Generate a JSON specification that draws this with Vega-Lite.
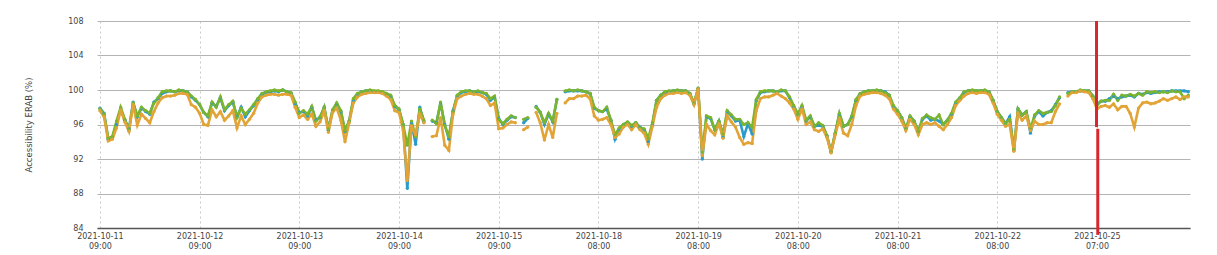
{
"$schema":"https://vega.github.io/schema/vega-lite/v6.json",
"width":1093,"height":207,
"autosize":{"type":"none"},
"padding":{"left":97,"top":21,"right":27,"bottom":27},
"background":"white",
"config":{"view":{"stroke":null},"font":"DejaVu Sans"},
"resolve":{"axis":{"x":"independent","y":"independent"}},
"data":{"values":[
{"i":0,"B":97.9,"G":97.8,"O":97.6},{"i":1,"B":97.3,"G":97.2,"O":96.9},{"i":2,"B":94.3,"G":94.4,"O":94.1},{"i":3,"B":94.5,"G":94.6,"O":94.3},{"i":4,"B":96.0,"G":96.4,"O":95.6},{"i":5,"B":97.8,"G":98.0,"O":97.7},{"i":6,"B":96.5,"G":96.6,"O":96.3},{"i":7,"B":95.5,"G":95.4,"O":95.2},{"i":8,"B":98.6,"G":98.5,"O":98.3},{"i":9,"B":96.9,"G":97.0,"O":95.9},
{"i":10,"B":97.9,"G":98.0,"O":97.2},{"i":11,"B":97.5,"G":97.6,"O":96.7},{"i":12,"B":97.2,"G":97.3,"O":96.2},{"i":13,"B":98.6,"G":98.5,"O":97.5},{"i":14,"B":99.0,"G":99.1,"O":98.5},{"i":15,"B":99.6,"G":99.8,"O":99.1},{"i":16,"B":99.8,"G":99.9,"O":99.3},{"i":17,"B":99.9,"G":99.9,"O":99.3},{"i":18,"B":99.8,"G":99.8,"O":99.4},{"i":19,"B":99.9,"G":100.0,"O":99.6},
{"i":20,"B":99.9,"G":99.9,"O":99.6},{"i":21,"B":99.8,"G":99.8,"O":99.5},{"i":22,"B":99.2,"G":99.3,"O":98.3},{"i":23,"B":98.8,"G":98.9,"O":98.0},{"i":24,"B":98.3,"G":98.3,"O":97.3},{"i":25,"B":97.4,"G":97.4,"O":96.0},{"i":26,"B":96.9,"G":97.0,"O":95.9},{"i":27,"B":98.5,"G":98.6,"O":97.7},{"i":28,"B":98.1,"G":98.0,"O":96.9},{"i":29,"B":99.1,"G":99.2,"O":97.5},
{"i":30,"B":97.6,"G":97.7,"O":96.5},{"i":31,"B":98.2,"G":98.3,"O":97.0},{"i":32,"B":98.6,"G":98.7,"O":97.6},{"i":33,"B":96.9,"G":96.8,"O":95.6},{"i":34,"B":98.0,"G":97.9,"O":97.0},{"i":35,"B":96.9,"G":97.2,"O":96.0},{"i":36,"B":97.6,"G":97.7,"O":96.6},{"i":37,"B":98.2,"G":98.3,"O":97.3},{"i":38,"B":98.9,"G":99.0,"O":98.5},{"i":39,"B":99.5,"G":99.6,"O":99.2},
{"i":40,"B":99.7,"G":99.8,"O":99.4},{"i":41,"B":99.8,"G":99.9,"O":99.5},{"i":42,"B":99.9,"G":100.0,"O":99.5},{"i":43,"B":99.8,"G":99.9,"O":99.4},{"i":44,"B":100.0,"G":100.0,"O":99.5},{"i":45,"B":99.8,"G":99.8,"O":99.5},{"i":46,"B":99.6,"G":99.7,"O":99.4},{"i":47,"B":98.4,"G":98.6,"O":98.0},{"i":48,"B":97.4,"G":97.3,"O":96.8},{"i":49,"B":97.5,"G":97.6,"O":97.1},
{"i":50,"B":97.0,"G":97.2,"O":96.6},{"i":51,"B":98.0,"G":98.1,"O":97.2},{"i":52,"B":96.5,"G":96.4,"O":95.8},{"i":53,"B":96.8,"G":96.9,"O":96.3},{"i":54,"B":98.0,"G":98.0,"O":97.6},{"i":55,"B":95.3,"G":95.5,"O":95.1},{"i":56,"B":97.6,"G":97.7,"O":97.4},{"i":57,"B":98.4,"G":98.5,"O":97.9},{"i":58,"B":97.5,"G":97.6,"O":96.5},{"i":59,"B":95.2,"G":95.3,"O":94.0},
{"i":60,"B":96.4,"G":96.4,"O":96.2},{"i":61,"B":98.8,"G":99.0,"O":98.5},{"i":62,"B":99.5,"G":99.6,"O":99.2},{"i":63,"B":99.8,"G":99.8,"O":99.5},{"i":64,"B":99.9,"G":99.9,"O":99.6},{"i":65,"B":99.9,"G":100.0,"O":99.7},{"i":66,"B":99.8,"G":99.9,"O":99.7},{"i":67,"B":99.8,"G":99.9,"O":99.7},{"i":68,"B":99.7,"G":99.8,"O":99.6},{"i":69,"B":99.5,"G":99.6,"O":99.3},
{"i":70,"B":99.3,"G":99.4,"O":98.9},{"i":71,"B":98.1,"G":98.2,"O":97.6},{"i":72,"B":97.7,"G":97.8,"O":97.4},{"i":73,"B":96.0,"G":96.0,"O":95.3},{"i":74,"B":88.6,"G":93.6,"O":89.5},{"i":75,"B":96.2,"G":96.4,"O":95.8},{"i":76,"B":93.7,"G":94.6,"O":94.8},{"i":77,"B":98.0,"G":97.8,"O":97.2},{"i":78,"B":96.3,"G":96.5,"O":96.2},{"i":79,"B":null,"G":null,"O":null},
{"i":80,"B":96.4,"G":96.5,"O":94.6},{"i":81,"B":96.2,"G":96.1,"O":94.7},{"i":82,"B":98.5,"G":98.6,"O":96.8},{"i":83,"B":96.0,"G":95.9,"O":93.6},{"i":84,"B":94.3,"G":94.6,"O":93.0},{"i":85,"B":97.6,"G":97.5,"O":97.2},{"i":86,"B":99.3,"G":99.4,"O":99.0},{"i":87,"B":99.7,"G":99.8,"O":99.3},{"i":88,"B":99.8,"G":99.9,"O":99.5},{"i":89,"B":99.9,"G":99.9,"O":99.6},
{"i":90,"B":99.8,"G":99.8,"O":99.5},{"i":91,"B":99.8,"G":99.9,"O":99.5},{"i":92,"B":99.7,"G":99.7,"O":99.3},{"i":93,"B":99.5,"G":99.6,"O":99.0},{"i":94,"B":98.8,"G":99.0,"O":98.2},{"i":95,"B":99.2,"G":99.3,"O":98.5},{"i":96,"B":96.7,"G":96.6,"O":95.5},{"i":97,"B":96.0,"G":96.1,"O":95.6},{"i":98,"B":96.5,"G":96.6,"O":96.0},{"i":99,"B":96.9,"G":97.0,"O":96.3},
{"i":100,"B":96.8,"G":96.8,"O":96.2},{"i":101,"B":null,"G":null,"O":null},{"i":102,"B":96.2,"G":96.6,"O":95.4},{"i":103,"B":96.7,"G":96.8,"O":95.7},{"i":104,"B":null,"G":null,"O":null},{"i":105,"B":98.1,"G":98.0,"O":97.4},{"i":106,"B":97.4,"G":97.4,"O":96.2},{"i":107,"B":96.0,"G":96.2,"O":94.2},{"i":108,"B":97.2,"G":97.3,"O":96.0},{"i":109,"B":96.3,"G":96.4,"O":94.5},
{"i":110,"B":98.9,"G":98.9,"O":97.3},{"i":111,"B":null,"G":null,"O":null},{"i":112,"B":99.8,"G":99.9,"O":98.5},{"i":113,"B":99.9,"G":100.0,"O":99.0},{"i":114,"B":99.9,"G":99.9,"O":99.0},{"i":115,"B":99.9,"G":100.0,"O":99.3},{"i":116,"B":99.9,"G":99.9,"O":99.3},{"i":117,"B":99.8,"G":99.8,"O":99.4},{"i":118,"B":99.6,"G":99.6,"O":99.0},{"i":119,"B":97.9,"G":98.0,"O":97.0},
{"i":120,"B":97.6,"G":97.6,"O":96.5},{"i":121,"B":97.5,"G":97.5,"O":96.6},{"i":122,"B":97.8,"G":98.0,"O":96.8},{"i":123,"B":96.5,"G":96.5,"O":96.0},{"i":124,"B":94.3,"G":94.8,"O":94.5},{"i":125,"B":95.5,"G":95.6,"O":94.9},{"i":126,"B":96.0,"G":96.0,"O":95.7},{"i":127,"B":96.2,"G":96.3,"O":96.0},{"i":128,"B":95.8,"G":95.9,"O":95.4},{"i":129,"B":96.2,"G":96.2,"O":96.0},
{"i":130,"B":95.7,"G":95.6,"O":95.4},{"i":131,"B":95.4,"G":95.5,"O":95.0},{"i":132,"B":94.0,"G":94.4,"O":93.7},{"i":133,"B":96.0,"G":96.2,"O":95.8},{"i":134,"B":98.8,"G":98.8,"O":98.0},{"i":135,"B":99.4,"G":99.4,"O":99.0},{"i":136,"B":99.7,"G":99.8,"O":99.4},{"i":137,"B":99.8,"G":99.9,"O":99.6},{"i":138,"B":99.9,"G":99.9,"O":99.6},{"i":139,"B":99.9,"G":100.0,"O":99.7},
{"i":140,"B":99.9,"G":99.9,"O":99.6},{"i":141,"B":99.9,"G":99.9,"O":99.7},{"i":142,"B":99.6,"G":99.6,"O":99.4},{"i":143,"B":98.4,"G":98.5,"O":98.3},{"i":144,"B":100.2,"G":100.2,"O":100.1},{"i":145,"B":92.0,"G":92.8,"O":92.4},{"i":146,"B":96.9,"G":97.0,"O":96.0},{"i":147,"B":96.7,"G":96.8,"O":95.3},{"i":148,"B":95.4,"G":95.4,"O":94.8},{"i":149,"B":96.4,"G":96.4,"O":96.1},
{"i":150,"B":94.5,"G":94.9,"O":94.4},{"i":151,"B":97.5,"G":97.6,"O":97.0},{"i":152,"B":97.0,"G":97.1,"O":96.3},{"i":153,"B":96.4,"G":96.6,"O":95.7},{"i":154,"B":96.5,"G":96.6,"O":94.5},{"i":155,"B":94.6,"G":96.0,"O":93.7},{"i":156,"B":96.1,"G":96.2,"O":93.9},{"i":157,"B":94.9,"G":95.7,"O":93.8},{"i":158,"B":98.8,"G":98.9,"O":97.6},{"i":159,"B":99.7,"G":99.8,"O":99.0},
{"i":160,"B":99.8,"G":99.9,"O":99.2},{"i":161,"B":99.9,"G":99.9,"O":99.2},{"i":162,"B":99.9,"G":99.9,"O":99.4},{"i":163,"B":99.8,"G":99.8,"O":99.6},{"i":164,"B":99.9,"G":100.0,"O":99.3},{"i":165,"B":99.9,"G":99.9,"O":99.0},{"i":166,"B":99.1,"G":99.2,"O":98.5},{"i":167,"B":98.1,"G":98.2,"O":97.8},{"i":168,"B":97.2,"G":97.2,"O":96.6},{"i":169,"B":98.0,"G":98.2,"O":97.8},
{"i":170,"B":96.4,"G":96.5,"O":96.0},{"i":171,"B":96.9,"G":97.0,"O":96.3},{"i":172,"B":95.8,"G":95.8,"O":95.4},{"i":173,"B":95.9,"G":96.2,"O":95.2},{"i":174,"B":95.8,"G":95.9,"O":95.5},{"i":175,"B":94.7,"G":94.7,"O":94.5},{"i":176,"B":92.8,"G":92.8,"O":92.7},{"i":177,"B":95.0,"G":95.0,"O":94.8},{"i":178,"B":97.2,"G":97.3,"O":96.6},{"i":179,"B":95.8,"G":95.8,"O":95.0},
{"i":180,"B":96.0,"G":96.0,"O":94.7},{"i":181,"B":96.9,"G":97.0,"O":96.0},{"i":182,"B":98.8,"G":98.9,"O":98.2},{"i":183,"B":99.5,"G":99.6,"O":99.3},{"i":184,"B":99.8,"G":99.8,"O":99.5},{"i":185,"B":99.9,"G":99.9,"O":99.6},{"i":186,"B":99.9,"G":99.9,"O":99.7},{"i":187,"B":99.9,"G":100.0,"O":99.7},{"i":188,"B":99.9,"G":99.9,"O":99.6},{"i":189,"B":99.8,"G":99.7,"O":99.4},
{"i":190,"B":99.4,"G":99.4,"O":99.0},{"i":191,"B":98.1,"G":98.2,"O":97.8},{"i":192,"B":97.6,"G":97.6,"O":97.2},{"i":193,"B":96.8,"G":96.8,"O":96.4},{"i":194,"B":95.5,"G":95.5,"O":95.3},{"i":195,"B":96.9,"G":97.0,"O":96.6},{"i":196,"B":96.4,"G":96.4,"O":96.0},{"i":197,"B":95.2,"G":95.2,"O":94.8},{"i":198,"B":96.6,"G":96.7,"O":96.0},{"i":199,"B":97.0,"G":97.1,"O":96.2},
{"i":200,"B":96.5,"G":96.8,"O":96.0},{"i":201,"B":96.6,"G":96.6,"O":96.2},{"i":202,"B":96.4,"G":97.1,"O":95.8},{"i":203,"B":96.0,"G":96.0,"O":95.4},{"i":204,"B":96.5,"G":96.5,"O":96.0},{"i":205,"B":97.2,"G":97.3,"O":96.8},{"i":206,"B":98.5,"G":98.6,"O":98.2},{"i":207,"B":99.0,"G":99.1,"O":98.8},{"i":208,"B":99.7,"G":99.8,"O":99.3},{"i":209,"B":99.9,"G":99.9,"O":99.6},
{"i":210,"B":99.9,"G":100.0,"O":99.7},{"i":211,"B":99.9,"G":99.9,"O":99.6},{"i":212,"B":99.9,"G":99.9,"O":99.7},{"i":213,"B":99.9,"G":100.0,"O":99.7},{"i":214,"B":99.8,"G":99.8,"O":99.5},{"i":215,"B":98.8,"G":98.8,"O":98.5},{"i":216,"B":97.5,"G":97.5,"O":97.2},{"i":217,"B":96.8,"G":96.8,"O":96.5},{"i":218,"B":96.1,"G":96.1,"O":95.8},{"i":219,"B":96.9,"G":96.6,"O":96.0},
{"i":220,"B":93.0,"G":93.1,"O":92.9},{"i":221,"B":97.8,"G":97.8,"O":97.3},{"i":222,"B":97.1,"G":97.1,"O":96.5},{"i":223,"B":97.5,"G":97.5,"O":97.0},{"i":224,"B":95.0,"G":95.5,"O":95.3},{"i":225,"B":97.0,"G":97.1,"O":96.4},{"i":226,"B":97.5,"G":97.6,"O":96.0},{"i":227,"B":97.0,"G":97.3,"O":96.0},{"i":228,"B":97.4,"G":97.4,"O":96.2},{"i":229,"B":97.6,"G":97.5,"O":96.2},
{"i":230,"B":98.3,"G":98.2,"O":97.5},{"i":231,"B":99.1,"G":99.2,"O":98.4},{"i":232,"B":null,"G":null,"O":null},{"i":233,"B":99.7,"G":99.6,"O":99.3},{"i":234,"B":99.8,"G":99.8,"O":99.7},{"i":235,"B":99.8,"G":99.8,"O":99.7},{"i":236,"B":99.9,"G":100.0,"O":99.9},{"i":237,"B":99.9,"G":99.9,"O":99.8},{"i":238,"B":99.9,"G":99.9,"O":99.7},{"i":239,"B":99.3,"G":99.3,"O":99.0},
{"i":240,"B":98.4,"G":98.2,"O":97.8},{"i":241,"B":98.7,"G":98.7,"O":98.1},{"i":242,"B":98.7,"G":98.8,"O":98.2},{"i":243,"B":99.0,"G":98.8,"O":98.0},{"i":244,"B":99.3,"G":99.5,"O":98.4},{"i":245,"B":99.0,"G":98.8,"O":97.7},{"i":246,"B":99.2,"G":99.4,"O":98.1},{"i":247,"B":99.3,"G":99.3,"O":98.1},{"i":248,"B":99.4,"G":99.5,"O":97.3},{"i":249,"B":99.2,"G":99.3,"O":95.7},
{"i":250,"B":99.6,"G":99.6,"O":97.9},{"i":251,"B":99.5,"G":99.4,"O":98.5},{"i":252,"B":99.7,"G":99.8,"O":98.6},{"i":253,"B":99.6,"G":99.7,"O":98.4},{"i":254,"B":99.7,"G":99.8,"O":98.5},{"i":255,"B":99.8,"G":99.7,"O":98.7},{"i":256,"B":99.8,"G":99.8,"O":99.0},{"i":257,"B":99.8,"G":99.7,"O":98.8},{"i":258,"B":99.9,"G":99.9,"O":99.0},{"i":259,"B":99.9,"G":99.8,"O":99.2},
{"i":260,"B":99.9,"G":99.8,"O":98.9},{"i":261,"B":99.9,"G":99.0,"O":99.2},{"i":262,"B":99.8,"G":99.4,"O":99.2}
]},
"layer":[
{"transform":[{"fold":["B","G","O"],"as":["s","v"]}],
 "mark":{"type":"line","strokeWidth":2.6,"invalid":"break-paths-show-domains","point":{"filled":true,"size":11}},
 "encoding":{
  "x":{"field":"i","type":"quantitative","scale":{"domain":[-0.7,262.4],"nice":false,"zero":false},
   "axis":{"values":[0,24,48,72,96,120,144,168,192,216,240],
    "labelExpr":"[['2021-10-11','09:00'],['2021-10-12','09:00'],['2021-10-13','09:00'],['2021-10-14','09:00'],['2021-10-15','09:00'],['2021-10-18','08:00'],['2021-10-19','08:00'],['2021-10-20','08:00'],['2021-10-21','08:00'],['2021-10-22','08:00'],['2021-10-25','07:00']][round(datum.value/24)]",
    "title":null,"grid":true,"gridDash":[2,3],"gridColor":"#c8c8c8","gridWidth":1,"ticks":false,
    "domainColor":"#555555","domainWidth":1.5,"labelFontSize":8,"labelColor":"#444444","labelPadding":4,"labelLineHeight":10,"labelFlush":false,"labelOverlap":false}},
  "y":{"field":"v","type":"quantitative","scale":{"domain":[84,108],"nice":false,"zero":false},
   "axis":{"values":[84,88,92,96,100,104,108],"title":"Accessibility ERAB (%)","titleFontSize":8.5,"titleFontWeight":"normal","titleColor":"#444444","titlePadding":34,
    "grid":true,"gridColor":"#b4b4b4","gridWidth":1,"domain":false,"ticks":false,"labelFontSize":8,"labelColor":"#444444","labelPadding":14,"labelOverlap":false}},
  "color":{"field":"s","type":"nominal","scale":{"domain":["B","G","O"],"range":["#2a9bcb","#7cb52c","#e2a436"]},"legend":null}
 }},
{"data":{"values":[{}]},"mark":{"type":"rule","color":"#d7262c","strokeWidth":3},"encoding":{"x":{"datum":239.9,"axis":null},"y":{"datum":108,"axis":null},"y2":{"datum":95.7}}},
{"data":{"values":[{}]},"mark":{"type":"rule","color":"#d7262c","strokeWidth":3},"encoding":{"x":{"datum":240.2,"axis":null},"y":{"datum":95.5,"axis":null},"y2":{"datum":83.2}}}
]
}
